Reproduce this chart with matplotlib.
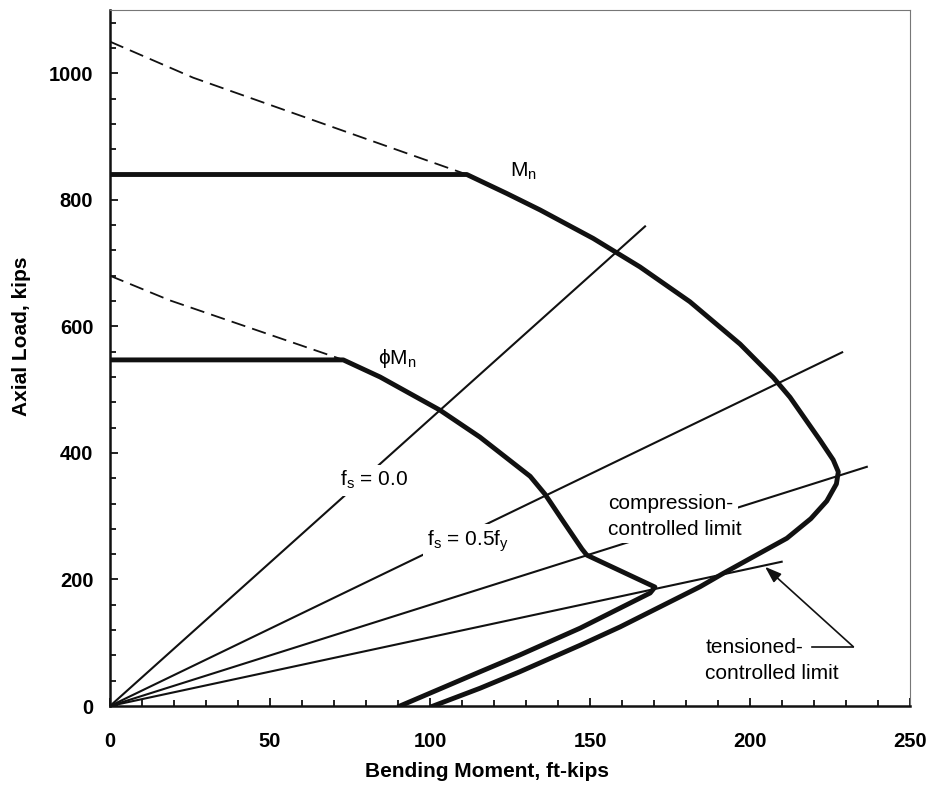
import numpy as np
import matplotlib.pyplot as plt
from matplotlib.ticker import MultipleLocator

plt.rcParams['font.family'] = ['Liberation Sans', 'DejaVu Sans']

# interaction curves, moment (ft-kips) and axial load (kips)
mn_moment = [0, 111.5, 124, 134.4, 151, 165.6, 181.2, 196.9, 207.3, 212.5, 221.9, 226,
             227.6, 227, 224, 219, 211.5, 200, 191.6, 184.4, 159.4, 146.9, 128, 115.6, 101]
mn_axial = [840, 840, 810, 784, 739, 694, 639, 572, 519, 488, 420, 389,
            370, 351, 324, 296, 265, 233, 209.5, 188.5, 125, 96, 54, 28, 0]

phi_moment = [0, 72.9, 84.4, 103.1, 115.6, 131.3, 135.9, 141.6, 147.5, 149,
              170.3, 168.8, 146.9, 128, 115.6, 90.6]
phi_axial = [547, 547, 520, 467.6, 425, 363, 335, 292, 248, 238.5,
             188, 178.6, 123, 80.5, 54, 0]

# dashed caps (no limit on max axial load)
mn_dash_moment = [0, 26, 111.5]
mn_dash_axial = [1050, 993, 840]
phi_dash_moment = [0, 18.75, 72.9]
phi_dash_axial = [680, 641, 547]

# radial lines from origin: fs=0, fs=0.5fy, compression limit, tension limit
radial_moment = [167.2, 228.8, 236.5, 209.9]
radial_axial = [758, 559, 378, 228]

fig = plt.figure(figsize=(9.3, 7.9), dpi=100)
ax = fig.add_axes([110 / 930, 84 / 790, 800 / 930, 696 / 790])

for m, p in zip(radial_moment, radial_axial):
    ax.plot([0, m], [0, p], color='#111111', lw=1.5, zorder=2)

ax.plot(mn_dash_moment, mn_dash_axial, color='#111111', lw=1.3, ls=(0, (8, 4)), zorder=2)
ax.plot(phi_dash_moment, phi_dash_axial, color='#111111', lw=1.3, ls=(0, (8, 4)), zorder=2)
ax.plot(mn_moment, mn_axial, color='#111111', lw=3.5, solid_joinstyle='round', zorder=4)
ax.plot(phi_moment, phi_axial, color='#111111', lw=3.5, solid_joinstyle='round', zorder=4)

box = dict(facecolor='white', edgecolor='none', pad=3)
fs = 15
ax.text(125, 837, r'M$_\mathregular{n}$', fontsize=fs, va='baseline', zorder=5)
ax.text(83.8, 540, r'ϕM$_\mathregular{n}$', fontsize=fs, va='baseline', zorder=5)
ax.text(71.9, 348, r'f$_\mathregular{s}$ = 0.0', fontsize=fs, va='baseline', bbox=box, zorder=3)
ax.text(99, 254, r'f$_\mathregular{s}$ = 0.5f$_\mathregular{y}$', fontsize=fs, va='baseline',
        bbox=box, zorder=3)
ax.text(155.7, 312, 'compression-', fontsize=fs, va='baseline', bbox=box, zorder=3)
ax.text(155.7, 271, 'controlled limit', fontsize=fs, va='baseline', bbox=box, zorder=3)
ax.text(186, 83, 'tensioned-', fontsize=fs, va='baseline', zorder=3)
ax.text(186, 42.6, 'controlled limit', fontsize=fs, va='baseline', zorder=3)

ax.plot([219.3, 232.3], [93.6, 93.6], color='#111111', lw=1.2, zorder=2)
ax.annotate('', xy=(204.7, 220), xytext=(232.3, 93.6),
            arrowprops=dict(arrowstyle='-|>,head_length=1.0,head_width=0.35',
                            color='#111111', lw=1.2, shrinkA=0, shrinkB=0), zorder=2)

ax.set_xlim(0, 250)
ax.set_ylim(0, 1100)
ax.xaxis.set_major_locator(MultipleLocator(50))
ax.xaxis.set_minor_locator(MultipleLocator(10))
ax.yaxis.set_major_locator(MultipleLocator(200))
ax.yaxis.set_minor_locator(MultipleLocator(40))
ax.tick_params(which='both', direction='in', top=False, right=False, width=1.3, color='#111111')
ax.tick_params(which='major', length=6)
ax.tick_params(which='minor', length=4)
ax.tick_params(axis='x', which='major', pad=19, labelsize=14.5)
ax.tick_params(axis='y', which='major', pad=12, labelsize=14.5)
for lab in ax.get_xticklabels() + ax.get_yticklabels():
    lab.set_fontweight('bold')

for s in ['left', 'bottom']:
    ax.spines[s].set_linewidth(1.8)
    ax.spines[s].set_color('#111111')
for s in ['top', 'right']:
    ax.spines[s].set_linewidth(0.8)
    ax.spines[s].set_color('#777777')

ax.set_xlabel('Bending Moment, ft-kips', fontsize=15, fontweight='bold', va='center')
ax.set_ylabel('Axial Load, kips', fontsize=15, fontweight='bold', va='center')
ax.xaxis.set_label_coords(0.471, -0.094)
ax.yaxis.set_label_coords(-0.11, 0.531)

fig.savefig('out.png', dpi=100)
